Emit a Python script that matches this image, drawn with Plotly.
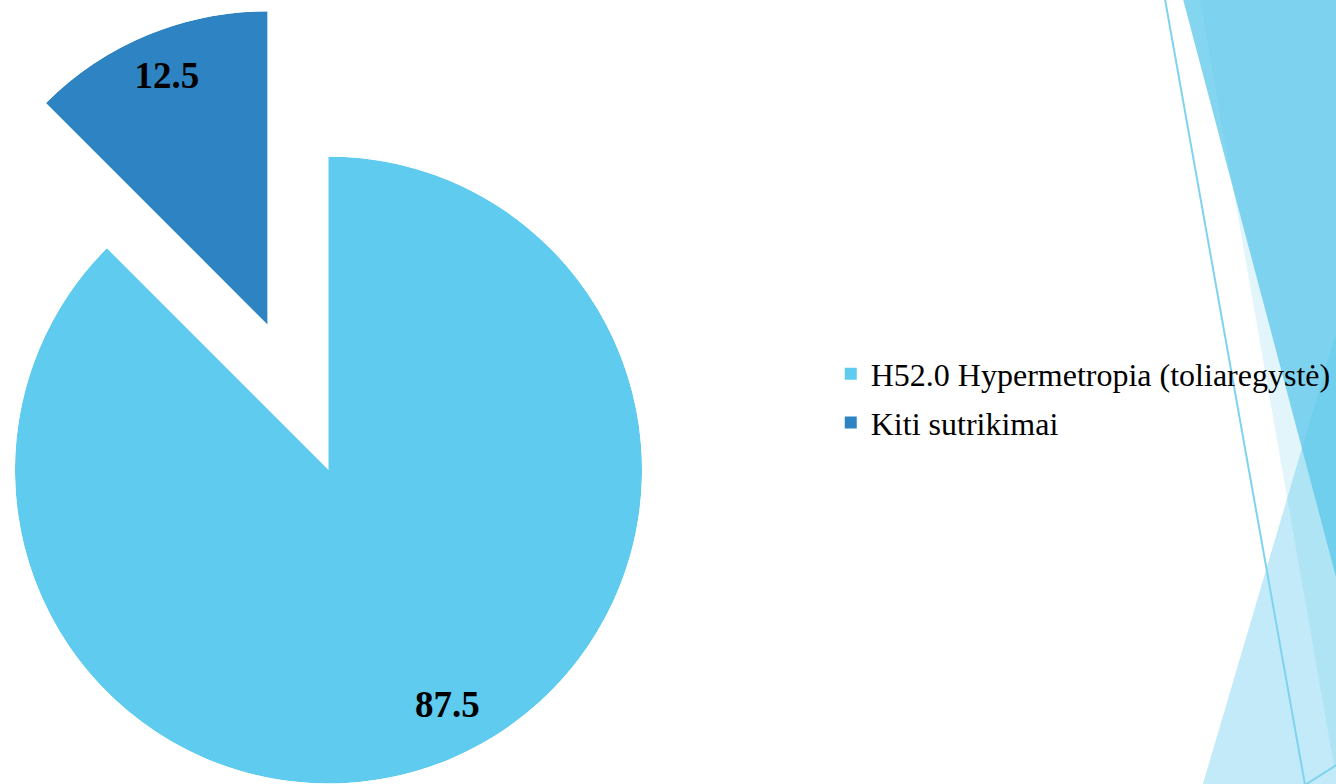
import plotly.graph_objects as go

# data
labels = ["H52.0 Hypermetropia (toliaregystė)", "Kiti sutrikimai"]
values = [87.5, 12.5]
colors = ["#5FCBEE", "#2E83C3"]

W, H = 1336, 784


def fx(x):
    return x / W


def fy(y):
    return 1 - y / H


# slice angles (clockwise from 12 o'clock, like a pie)
total = sum(values)
widths = [v / total * 360 for v in values]
starts = [sum(widths[:i]) for i in range(len(widths))]
centers = [s + w / 2 for s, w in zip(starts, widths)]

subplots = ["polar", "polar2"]
label_r = [0.847, 0.847]
label_shift = [-4.1, 0.2]

fig = go.Figure()
for i in range(len(values)):
    fig.add_trace(go.Barpolar(r=[1], theta=[centers[i]], width=[widths[i]],
                              marker=dict(color=colors[i], line=dict(width=0)),
                              name=labels[i], subplot=subplots[i],
                              legendgroup=labels[i], hoverinfo="name"))
for i in range(len(values)):
    fig.add_trace(go.Scatterpolar(r=[label_r[i]],
                                  theta=[centers[i] + label_shift[i]],
                                  mode="text", text=[f"{values[i]:g}"],
                                  textfont=dict(family="Liberation Serif", size=37,
                                                color="black", weight="bold"),
                                  subplot=subplots[i], showlegend=False,
                                  hoverinfo="skip"))

axis_style = dict(radialaxis=dict(visible=False, range=[0, 1]),
                  angularaxis=dict(visible=False, rotation=90, direction="clockwise"),
                  bgcolor="rgba(0,0,0,0)", hole=0)

# big slice: centre (329,470), radius 314 px
fig.update_layout(polar=dict(domain=dict(x=[fx(15), fx(643)], y=[0, fy(156)]),
                             **axis_style))
# pulled-out slice: apex (268,325), only its sector is laid out
fig.update_layout(polar2=dict(domain=dict(x=[fx(46), fx(268)], y=[fy(325), fy(11)]),
                              sector=[90, 135], **axis_style))


# decorative slide shapes on the right
def path(points, close=True):
    s = "M " + " L ".join(f"{fx(x):.5f},{fy(y):.5f}" for x, y in points)
    return s + (" Z" if close else "")


blue = "95,200,236"
shapes = [
    dict(type="path", path=path([(1185, 0), (1400, 0), (1400, 811)]),
         fillcolor=f"rgba({blue},0.77)", line=dict(width=0)),
    dict(type="path", path=path([(1202, 0), (1400, 0), (1400, 726), (1336, 766)]),
         fillcolor=f"rgba({blue},0.19)", line=dict(width=0)),
    dict(type="path", path=path([(1200, 800), (1400, 800), (1400, 123)]),
         fillcolor=f"rgba({blue},0.38)", line=dict(width=0)),
    dict(type="path", path=path([(1166, -5), (1307, 785), (1400, 726)], close=False),
         line=dict(color="#7FD3EE", width=2)),
]
for s in shapes:
    s.update(xref="paper", yref="paper", layer="below")

fig.update_layout(
    width=W, height=H,
    template="none",
    margin=dict(l=0, r=0, t=0, b=0),
    paper_bgcolor="white",
    font=dict(family="Liberation Serif", color="black"),
    shapes=shapes,
    showlegend=True,
    legend=dict(x=fx(832), xanchor="left", y=fy(398.5), yanchor="middle",
                font=dict(family="Liberation Serif", size=32, color="black"),
                bgcolor="rgba(0,0,0,0)", traceorder="grouped", tracegroupgap=4),
)

# drop the page's default body margin so the figure sits at the window corner
fig.write_html("out.html", config={"displayModeBar": False},
               post_script="document.body.style.margin='0';"
                           "document.body.style.overflow='hidden';")
